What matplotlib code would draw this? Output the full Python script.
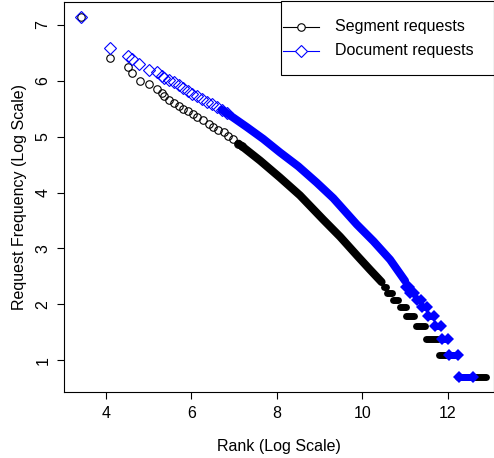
import numpy as np
import matplotlib.pyplot as plt
from matplotlib.patches import Rectangle
from matplotlib.lines import Line2D

plt.rcParams['font.family'] = ['Liberation Sans', 'DejaVu Sans']

# Segment requests (log rank, log frequency): sparse head
seg_x = [3.41, 4.09, 4.51, 4.60, 4.79, 5.01, 5.19, 5.30, 5.35, 5.48, 5.60, 5.70, 5.81,
         5.91, 6.03, 6.14, 6.26, 6.40, 6.51, 6.63, 6.75, 6.86, 6.98, 7.10, 7.18]
seg_y = [7.15, 6.41, 6.24, 6.14, 6.00, 5.94, 5.85, 5.78, 5.72, 5.66, 5.61, 5.55, 5.50,
         5.46, 5.41, 5.36, 5.30, 5.23, 5.18, 5.125, 5.08, 5.02, 4.96, 4.875, 4.83]
# dense middle part, where the markers merge into a band
seg_band_x = [7.10, 7.18, 7.61, 8.07, 8.54, 9.08, 9.48, 9.88, 10.18, 10.45]
seg_band_y = [4.875, 4.83, 4.57, 4.27, 3.95, 3.52, 3.21, 2.87, 2.62, 2.40]
# tail: frequency level and the log-rank span it covers
seg_freq = [10, 9, 8, 7, 6, 5, 4, 3, 2]
seg_from = [10.50, 10.58, 10.71, 10.87, 11.02, 11.25, 11.49, 11.80, 12.23]
seg_to = [10.55, 10.69, 10.84, 11.02, 11.22, 11.47, 11.78, 12.21, 12.89]

# Document requests
doc_x = [3.41, 4.09, 4.51, 4.60, 4.78, 5.01, 5.19, 5.30, 5.36, 5.48, 5.60, 5.70, 5.80,
         5.91, 6.01, 6.12, 6.24, 6.36, 6.48, 6.59, 6.71, 6.83]
doc_y = [7.15, 6.59, 6.45, 6.39, 6.30, 6.20, 6.15, 6.09, 6.05, 6.02, 5.97, 5.92, 5.87,
         5.82, 5.77, 5.72, 5.67, 5.625, 5.58, 5.53, 5.48, 5.42]
doc_band_x = [6.71, 6.83, 7.30, 7.68, 8.07, 8.50, 8.93, 9.32, 9.87, 10.26, 10.65, 11.00]
doc_band_y = [5.48, 5.42, 5.17, 4.96, 4.72, 4.47, 4.18, 3.90, 3.43, 3.13, 2.80, 2.42]
doc_freq = [10, 9, 8, 7, 6, 5, 4, 3, 2]
doc_from = [11.03, 11.12, 11.27, 11.40, 11.53, 11.70, 11.86, 12.03, 12.27]
doc_to = [11.09, 11.20, 11.38, 11.51, 11.67, 11.84, 12.01, 12.25, 12.60]

BLUE = '#0000FF'

fig = plt.figure(figsize=(4.94, 4.58), dpi=100)
ax = fig.add_axes([0.1302, 0.1448, 0.8688, 0.8509])

# segment series
ax.plot(seg_band_x, seg_band_y, color='black', lw=5.8, solid_capstyle='round',
        solid_joinstyle='round')
ax.plot(seg_x, seg_y, 'o', mfc='none', mec='black', ms=5.4, mew=0.8)
for k, a, b in zip(seg_freq, seg_from, seg_to):
    ax.plot([a, b], [np.log(k)] * 2, color='black', lw=5.0, solid_capstyle='round')

# document series
ax.plot(doc_band_x, doc_band_y, color=BLUE, lw=5.8, solid_capstyle='round',
        solid_joinstyle='round')
ax.plot(doc_x, doc_y, 'D', mfc='none', mec=BLUE, ms=5.8, mew=0.8)
for k, a, b in zip(doc_freq, doc_from, doc_to):
    ax.plot([a, b], [np.log(k)] * 2, color=BLUE, lw=5.0, solid_capstyle='butt')
    ax.plot([a, b], [np.log(k)] * 2, 'D', color=BLUE, ms=6.0, mew=0)

ax.set_xlim(3.024, 13.07)
ax.set_ylim(0.438, 7.41)
ax.set_xticks([4, 6, 8, 10, 12])
ax.set_yticks([1, 2, 3, 4, 5, 6, 7])
ax.tick_params(direction='out', length=5, width=0.8, labelsize=11.5, pad=5)
for lab in ax.get_yticklabels():
    lab.set_rotation(90)
    lab.set_va('center')
for s in ax.spines.values():
    s.set_linewidth(0.8)

ax.set_xlabel('Rank (Log Scale)', fontsize=11.5, labelpad=13)
ax.set_ylabel('Request Frequency (Log Scale)', fontsize=11.5, labelpad=6)

# legend box drawn like R's legend(): line + point + label
ax.add_patch(Rectangle((0.505, 0.8127), 0.495, 0.19, transform=ax.transAxes,
                       fill=True, facecolor='white', edgecolor='black', lw=0.8,
                       clip_on=False, zorder=5))
rows = [('Segment requests', 'black', 'o', 0.9366), ('Document requests', BLUE, 'D', 0.8743)]
for label, col, mk, yy in rows:
    ax.add_line(Line2D([0.510, 0.594], [yy, yy], color=col, lw=0.8,
                       transform=ax.transAxes, zorder=6))
    ax.add_line(Line2D([0.552], [yy], marker=mk, mfc='white', mec=col,
                       ms=5.4 if mk == 'o' else 5.8,
                       mew=0.8, transform=ax.transAxes, zorder=7))
    ax.text(0.631, yy, label, transform=ax.transAxes, fontsize=11.5,
            va='center', ha='left', zorder=7)

fig.savefig('out.png', dpi=100)
